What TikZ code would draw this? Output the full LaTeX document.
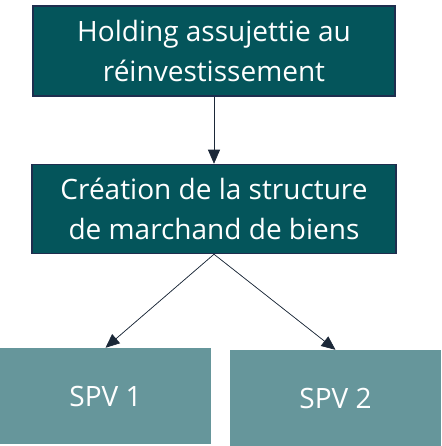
\documentclass[tikz,border=0pt]{standalone}
\usepackage{fontspec}
\setmainfont{Open Sans}
\usepackage{xcolor}
\definecolor{cDark}{HTML}{04555B}
\definecolor{cLight}{HTML}{66969B}
\definecolor{cEdge}{HTML}{1E2E4E}
\definecolor{cLine}{HTML}{1B2838}
\usetikzlibrary{positioning,arrows.meta}
\tikzset{
  box-dark/.style={draw=cEdge,line width=1.5pt,fill=cDark,text=white,
    align=center,font=\fontsize{28}{40}\selectfont,inner sep=0pt},
  box-light/.style={fill=cLight,text=white,align=center,
    font=\fontsize{28}{40}\selectfont,inner sep=0pt},
  arrow/.style={-{Triangle[length=14pt,width=12pt]},line width=0.7pt,draw=cLine,fill=cLine},
}
\begin{document}
\begin{tikzpicture}[x=1pt,y=-1pt]
  \useasboundingbox (0,0) rectangle (441,446);
  \node[box-dark,minimum width=362pt,minimum height=90pt] (hold) at (214,51)
    {Holding assujettie au\\réinvestissement};
  \node[box-dark,minimum width=364pt,minimum height=89pt,below=67pt of hold] (mk)
    {Création de la structure\\de marchand de biens};
  \node[box-light,minimum width=211pt,minimum height=96pt] (spv1) at (105.5,396) {SPV 1};
  \node[box-light,minimum width=211pt,minimum height=96pt] (spv2) at (335.5,398) {SPV 2};
  \draw[arrow] (hold) -- (mk);
  \draw[arrow] (mk.south) -- (spv1.north);
  \draw[arrow] (mk.south) -- (spv2.north);
\end{tikzpicture}
\end{document}
